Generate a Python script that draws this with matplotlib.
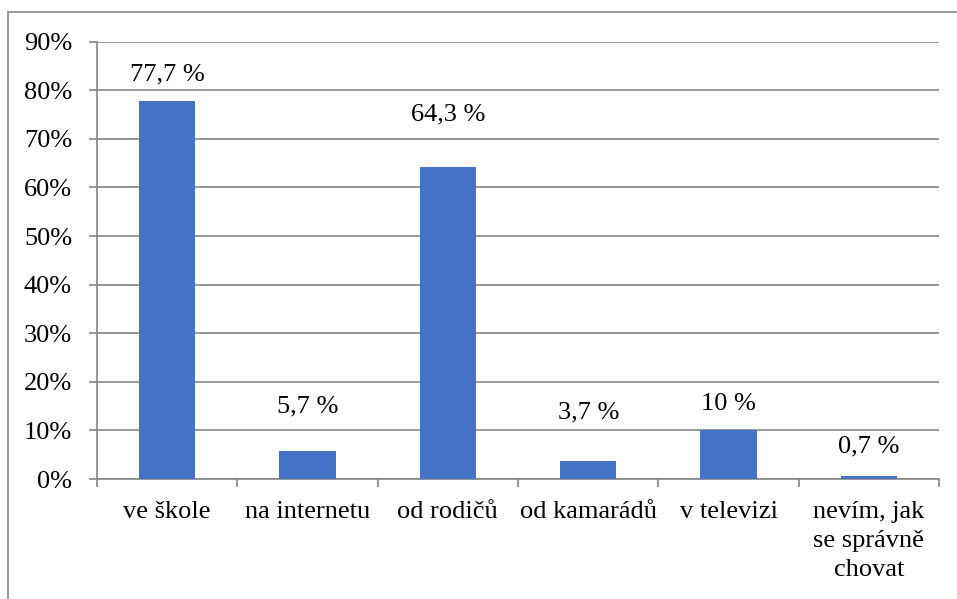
import matplotlib.pyplot as plt
from matplotlib.patches import Rectangle
from matplotlib.ticker import PercentFormatter

# Data
categories = ['ve škole', 'na internetu', 'od rodičů', 'od kamarádů',
              'v televizi', 'nevím, jak\nse správně\nchovat']
values = [77.7, 5.7, 64.3, 3.7, 10.0, 0.7]
value_labels = ['77,7 %', '5,7 %', '64,3 %', '3,7 %', '10 %', '0,7 %']

# label lift above bar tops (in % units), as placed in the original
label_lift = [5.5, 9.3, 10.7, 10.1, 5.4, 6.1]

plt.rcParams['font.family'] = ['Liberation Serif', 'DejaVu Serif']
grey = '#868686'
fs = 19

fig = plt.figure(figsize=(9.57, 5.99), dpi=100)
ax = fig.add_axes([0.1014, 0.2003, 0.8798, 0.7301])

x = range(len(categories))
ax.bar(x, values, width=0.4, color='#4472C4', zorder=3)

for i, v in enumerate(values):
    ax.text(i, v + label_lift[i], value_labels[i], ha='center', va='center',
            fontsize=fs, color='black')

ax.set_xlim(-0.5, len(categories) - 0.5)
ax.set_ylim(0, 90)
ax.set_yticks(range(0, 91, 10))
ax.yaxis.set_major_formatter(PercentFormatter(decimals=0))
ax.grid(axis='y', color=grey, linewidth=1.2, zorder=0)

ax.set_xticks([i - 0.5 for i in range(len(categories) + 1)], minor=False)
ax.set_xticklabels([''] * (len(categories) + 1))
ax.set_xticks(list(x), minor=True)
ax.set_xticklabels(categories, minor=True, fontsize=fs, linespacing=1.4,
                   va='top')
ax.tick_params(axis='x', which='minor', length=0, pad=16)
ax.tick_params(axis='x', which='major', length=6, color=grey, width=1.2)
ax.tick_params(axis='y', length=6, color=grey, width=1.2, pad=12,
               labelsize=fs)

for side in ['top', 'right']:
    ax.spines[side].set_visible(False)
for side in ['left', 'bottom']:
    ax.spines[side].set_color(grey)
    ax.spines[side].set_linewidth(1.2)

# outer chart frame (only left and top edges visible in the crop)
fig.patches.append(Rectangle((8 / 957, -0.1), 1.2, 1.1 - 12 / 599,
                             transform=fig.transFigure, fill=False,
                             edgecolor=grey, linewidth=1.2))

fig.savefig('out.png', dpi=100)
